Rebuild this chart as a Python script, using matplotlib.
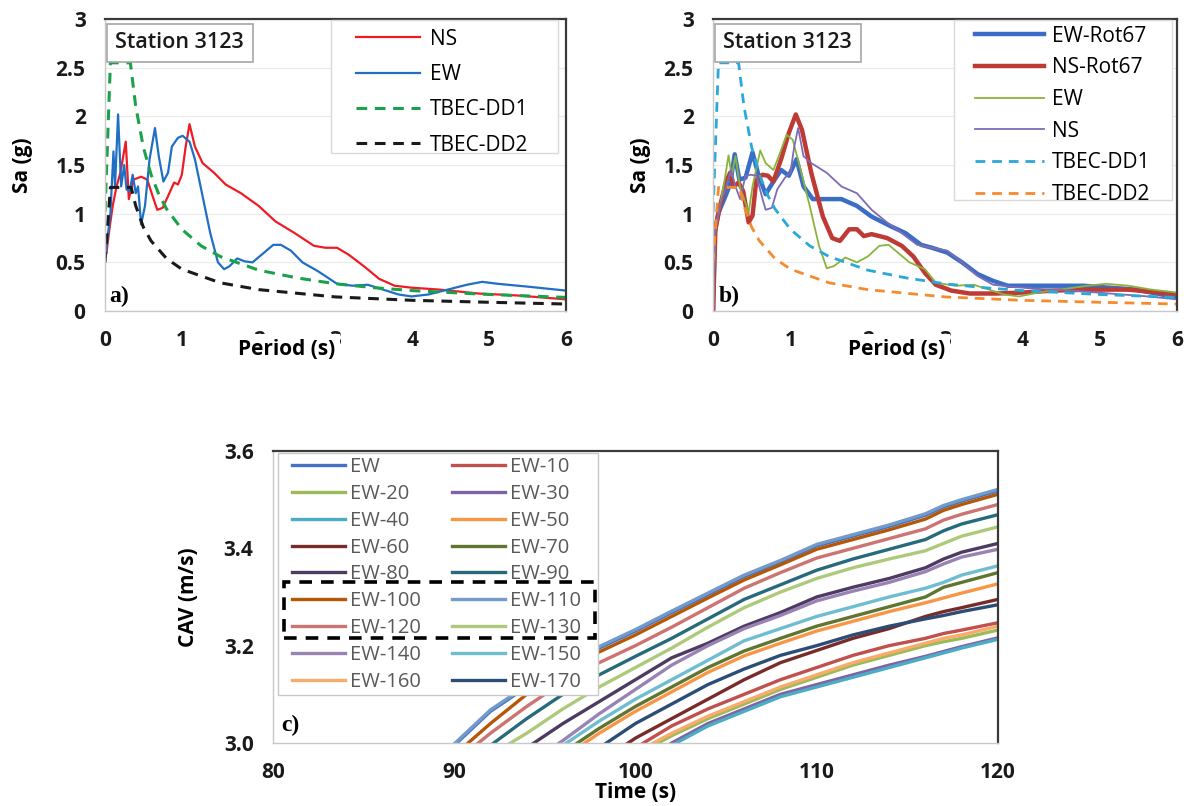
import numpy as np
import matplotlib
matplotlib.use('Agg')
import matplotlib.pyplot as plt
from matplotlib.patches import Rectangle

plt.rcParams['font.family'] = ['Open Sans', 'DejaVu Sans']

# ---------------- panel a) data ----------------
t_ns_a = [0.02, 0.05, 0.1, 0.15, 0.2, 0.27, 0.31, 0.37, 0.47, 0.55, 0.62, 0.68, 0.75, 0.82,
          0.9, 0.95, 1.0, 1.05, 1.1, 1.17, 1.27, 1.42, 1.57, 1.77, 2.0, 2.22, 2.47, 2.72,
          2.87, 3.02, 3.17, 3.37, 3.57, 3.77, 3.99, 4.36, 4.86, 5.36, 6.0]
sa_ns_a = [0.6, 0.8, 1.08, 1.28, 1.42, 1.74, 1.15, 1.35, 1.38, 1.35, 1.18, 1.04, 1.06, 1.18,
           1.32, 1.30, 1.40, 1.69, 1.92, 1.69, 1.52, 1.42, 1.30, 1.21, 1.08, 0.92, 0.80, 0.67,
           0.65, 0.65, 0.58, 0.46, 0.33, 0.26, 0.24, 0.22, 0.18, 0.16, 0.12]

t_ew_a = [0.01, 0.04, 0.07, 0.11, 0.13, 0.17, 0.21, 0.25, 0.28, 0.32, 0.36, 0.40, 0.43, 0.47,
          0.52, 0.58, 0.65, 0.70, 0.76, 0.82, 0.87, 0.95, 1.01, 1.1, 1.17, 1.27, 1.37, 1.47,
          1.55, 1.62, 1.72, 1.82, 1.92, 2.07, 2.19, 2.29, 2.42, 2.57, 2.77, 3.02, 3.22, 3.42,
          3.62, 3.82, 3.99, 4.21, 4.46, 4.71, 4.91, 5.11, 5.51, 6.0]
sa_ew_a = [0.6, 0.8, 1.0, 1.64, 1.28, 2.02, 1.28, 1.5, 1.25, 1.23, 1.40, 1.21, 1.28, 0.89,
           1.08, 1.56, 1.88, 1.59, 1.33, 1.42, 1.69, 1.78, 1.80, 1.74, 1.56, 1.18, 0.80, 0.50,
           0.43, 0.46, 0.54, 0.51, 0.50, 0.60, 0.68, 0.68, 0.62, 0.50, 0.41, 0.28, 0.26, 0.27,
           0.22, 0.17, 0.15, 0.17, 0.22, 0.27, 0.30, 0.28, 0.25, 0.21]

t_dd1 = [0, 0.07, 0.33, 0.4, 0.5, 0.6, 0.7, 0.8, 1.0, 1.25, 1.5, 2.0, 2.5, 3.0, 3.5, 4.0, 5.0, 6.0]
sa_dd1 = [1.02, 2.55, 2.55, 2.1, 1.68, 1.4, 1.2, 1.05, 0.84, 0.67, 0.56, 0.42, 0.34, 0.28, 0.24,
          0.21, 0.17, 0.14]
t_dd2 = [0, 0.07, 0.34, 0.4, 0.5, 0.6, 0.8, 1.0, 1.5, 2.0, 3.0, 4.0, 5.0, 6.0]
sa_dd2 = [0.5, 1.27, 1.27, 1.08, 0.86, 0.72, 0.54, 0.43, 0.29, 0.22, 0.145, 0.11, 0.09, 0.072]

# ---------------- panel b) data ----------------
t_ewrot = [0, 0.02, 0.07, 0.15, 0.22, 0.28, 0.34, 0.42, 0.51, 0.59, 0.68, 0.78, 0.88, 0.98,
           1.08, 1.17, 1.29, 1.47, 1.66, 1.86, 2.05, 2.30, 2.49, 2.69, 2.83, 3.03, 3.22, 3.42,
           3.62, 3.81, 4.05, 4.40, 4.79, 5.13, 5.47, 6.0]
sa_ewrot = [0, 0.8, 1.01, 1.16, 1.30, 1.61, 1.35, 1.37, 1.63, 1.39, 1.20, 1.33, 1.45, 1.39,
            1.56, 1.28, 1.15, 1.15, 1.15, 1.08, 0.97, 0.87, 0.80, 0.68, 0.65, 0.60, 0.50, 0.38,
            0.31, 0.26, 0.26, 0.26, 0.26, 0.24, 0.22, 0.14]

t_nsrot = [0, 0.03, 0.09, 0.17, 0.22, 0.27, 0.33, 0.39, 0.46, 0.51, 0.56, 0.64, 0.71, 0.78,
           0.88, 0.98, 1.07, 1.15, 1.27, 1.42, 1.54, 1.64, 1.76, 1.86, 1.95, 2.05, 2.25, 2.44,
           2.59, 2.74, 2.88, 3.08, 3.32, 3.66, 4.01, 4.40, 4.89, 5.37, 6.0]
sa_nsrot = [0, 0.84, 1.08, 1.33, 1.42, 1.28, 1.32, 1.23, 0.91, 0.98, 1.35, 1.40, 1.39, 1.33,
            1.56, 1.83, 2.02, 1.86, 1.42, 0.97, 0.75, 0.72, 0.84, 0.84, 0.77, 0.79, 0.75, 0.67,
            0.56, 0.39, 0.27, 0.21, 0.18, 0.18, 0.19, 0.21, 0.22, 0.22, 0.17]

t_ew_b = [0, 0.03, 0.09, 0.15, 0.20, 0.24, 0.29, 0.35, 0.42, 0.46, 0.51, 0.61, 0.68, 0.78,
          0.85, 0.95, 1.03, 1.12, 1.25, 1.37, 1.47, 1.56, 1.71, 1.86, 2.00, 2.15, 2.27, 2.39,
          2.54, 2.74, 2.88, 3.13, 3.37, 3.57, 3.76, 3.96, 4.20, 4.49, 4.84, 5.08, 5.37, 5.67, 6.0]
sa_ew_b = [0, 0.84, 1.08, 1.35, 1.60, 1.39, 1.59, 1.27, 1.11, 1.01, 1.28, 1.65, 1.52, 1.45,
           1.59, 1.81, 1.76, 1.49, 1.08, 0.67, 0.44, 0.46, 0.55, 0.50, 0.56, 0.67, 0.68, 0.60,
           0.50, 0.43, 0.29, 0.26, 0.27, 0.22, 0.17, 0.15, 0.19, 0.22, 0.26, 0.28, 0.26, 0.22, 0.19]

t_ns_b = [0, 0.03, 0.1, 0.17, 0.23, 0.29, 0.35, 0.42, 0.49, 0.56, 0.64, 0.68, 0.76, 0.83,
          0.93, 1.0, 1.05, 1.10, 1.17, 1.27, 1.47, 1.66, 1.86, 2.05, 2.25, 2.44, 2.64, 2.83,
          3.03, 3.22, 3.42, 3.62, 3.86, 4.15, 4.64, 5.13, 5.62, 6.0]
sa_ns_b = [0, 0.84, 1.11, 1.28, 1.45, 1.28, 1.15, 1.39, 1.40, 1.39, 1.15, 1.04, 1.06, 1.25,
           1.37, 1.42, 1.69, 1.88, 1.59, 1.52, 1.42, 1.28, 1.21, 1.04, 0.91, 0.80, 0.68, 0.65,
           0.62, 0.50, 0.36, 0.27, 0.25, 0.23, 0.21, 0.18, 0.15, 0.12]

# ---------------- panel c) data ----------------
time_c = [90, 92, 94, 96, 98, 100, 102, 104, 106, 108, 110, 112, 114, 116, 117, 118, 120]
cav_labels = ['EW', 'EW-10', 'EW-20', 'EW-30', 'EW-40', 'EW-50', 'EW-60', 'EW-70', 'EW-80',
              'EW-90', 'EW-100', 'EW-110', 'EW-120', 'EW-130', 'EW-140', 'EW-150', 'EW-160',
              'EW-170']
cav_ew = [2.995, 3.065, 3.115, 3.16, 3.195, 3.23, 3.268, 3.305, 3.342, 3.372, 3.405, 3.425,
          3.445, 3.468, 3.485, 3.497, 3.518]
cav_ew10 = [2.7, 2.76, 2.82, 2.88, 2.95, 2.99, 3.035, 3.07, 3.1, 3.13, 3.155, 3.18, 3.2, 3.215,
            3.225, 3.232, 3.247]
cav_ew20 = [2.68, 2.74, 2.8, 2.86, 2.92, 2.975, 3.015, 3.05, 3.08, 3.11, 3.135, 3.16, 3.18, 3.2,
            3.208, 3.215, 3.232]
cav_ew30 = [2.65, 2.71, 2.77, 2.83, 2.89, 2.95, 3.0, 3.04, 3.07, 3.1, 3.12, 3.14, 3.16, 3.178,
            3.188, 3.198, 3.216]
cav_ew40 = [2.65, 2.71, 2.77, 2.83, 2.89, 2.945, 2.995, 3.035, 3.065, 3.095, 3.115, 3.135,
            3.155, 3.175, 3.185, 3.195, 3.213]
cav_ew50 = [2.8, 2.85, 2.91, 2.97, 3.02, 3.065, 3.105, 3.145, 3.179, 3.205, 3.23, 3.25, 3.27,
            3.288, 3.298, 3.308, 3.327]
cav_ew60 = [2.75, 2.8, 2.86, 2.91, 2.96, 3.01, 3.05, 3.09, 3.13, 3.165, 3.19, 3.215, 3.235,
            3.26, 3.27, 3.278, 3.295]
cav_ew70 = [2.8, 2.86, 2.92, 2.98, 3.03, 3.075, 3.115, 3.155, 3.189, 3.215, 3.24, 3.26, 3.28,
            3.3, 3.32, 3.33, 3.35]
cav_ew80 = [2.88, 2.94, 2.99, 3.04, 3.085, 3.13, 3.175, 3.205, 3.24, 3.268, 3.3, 3.32, 3.338,
            3.36, 3.378, 3.392, 3.41]
cav_ew90 = [2.95, 2.995, 3.05, 3.1, 3.14, 3.178, 3.215, 3.255, 3.295, 3.325, 3.355, 3.378,
            3.398, 3.418, 3.436, 3.45, 3.469]
cav_ew100 = [2.975, 3.04, 3.1, 3.15, 3.187, 3.222, 3.26, 3.298, 3.335, 3.366, 3.398, 3.418,
             3.438, 3.46, 3.478, 3.49, 3.511]
cav_ew110 = [2.998, 3.068, 3.118, 3.163, 3.198, 3.233, 3.271, 3.308, 3.345, 3.375, 3.408,
             3.428, 3.448, 3.471, 3.488, 3.5, 3.521]
cav_ew120 = [2.96, 3.02, 3.075, 3.125, 3.165, 3.2, 3.238, 3.278, 3.318, 3.35, 3.38, 3.4, 3.42,
             3.44, 3.458, 3.47, 3.49]
cav_ew130 = [2.92, 2.975, 3.02, 3.07, 3.115, 3.155, 3.195, 3.238, 3.278, 3.31, 3.338, 3.36,
             3.378, 3.395, 3.41, 3.425, 3.444]
cav_ew140 = [2.85, 2.9, 2.955, 3.005, 3.06, 3.11, 3.16, 3.2, 3.235, 3.262, 3.292, 3.312, 3.33,
             3.352, 3.368, 3.382, 3.398]
cav_ew150 = [2.82, 2.88, 2.94, 2.995, 3.045, 3.09, 3.13, 3.17, 3.21, 3.235, 3.26, 3.28, 3.3,
             3.318, 3.33, 3.345, 3.364]
cav_ew160 = [2.7, 2.76, 2.82, 2.88, 2.94, 2.98, 3.02, 3.055, 3.085, 3.115, 3.14, 3.165, 3.185,
             3.205, 3.215, 3.222, 3.24]
cav_ew170 = [2.75, 2.82, 2.89, 2.95, 2.99, 3.04, 3.08, 3.12, 3.152, 3.18, 3.2, 3.222, 3.24,
             3.255, 3.262, 3.27, 3.284]
cav_series = [cav_ew, cav_ew10, cav_ew20, cav_ew30, cav_ew40, cav_ew50, cav_ew60, cav_ew70,
              cav_ew80, cav_ew90, cav_ew100, cav_ew110, cav_ew120, cav_ew130, cav_ew140,
              cav_ew150, cav_ew160, cav_ew170]
cav_colors = ['#4472C4', '#C0504D', '#9BBB59', '#8064A2', '#4BACC6', '#F79646', '#772C2A',
              '#5F7530', '#4D3B62', '#276A7C', '#B65708', '#729ACA', '#CD7371', '#AFC97A',
              '#9983B5', '#6FBDD1', '#F9AB6B', '#2C4D75']

TICK_FS = 15
DASH = (3.5, 2.5)


def style_axes(ax):
    for s in ['top', 'right']:
        ax.spines[s].set_color('#3a3a3a')
        ax.spines[s].set_linewidth(1.6)
    for s in ['left', 'bottom']:
        ax.spines[s].set_color('#C8C8C8')
        ax.spines[s].set_linewidth(1.0)
    ax.tick_params(length=0, pad=14, labelsize=TICK_FS, colors='#1a1a1a')
    for lab in ax.get_xticklabels() + ax.get_yticklabels():
        lab.set_fontweight('bold')


def legend_box(ax, x0, y0, w, h, ec='#D9D9D9'):
    # white frame behind the legend entries
    ax.add_patch(Rectangle((x0, y0), w, h, transform=ax.transAxes, fc='white', ec=ec,
                           lw=1.0, zorder=4, clip_on=False))


def spectrum_axes(ax, label_x):
    ax.set_xlim(0, 6)
    ax.set_ylim(0, 3)
    ax.set_xticks(range(7))
    ax.set_yticks([0, 0.5, 1, 1.5, 2, 2.5, 3])
    ax.set_yticklabels(['0', '0.5', '1', '1.5', '2', '2.5', '3'])
    ax.yaxis.grid(True, color='#EBEBEB', lw=0.8)
    ax.set_axisbelow(True)
    style_axes(ax)
    ax.set_xlabel('Period (s)', fontsize=15, fontweight='bold',
                  bbox=dict(boxstyle='square,pad=0.22', fc='white', ec='none'))
    ax.xaxis.set_label_coords(0.395, -0.095)
    ax.xaxis.label.set_va('top')
    ax.set_ylabel('Sa (g)', fontsize=15, fontweight='bold')
    ax.yaxis.set_label_coords(label_x, 0.5)
    ax.text(0.022, 0.955, 'Station 3123', transform=ax.transAxes, fontsize=15.5,
            fontweight='semibold', va='top', ha='left', color='#1a1a1a', zorder=6,
            bbox=dict(boxstyle='square,pad=0.4', fc='white', ec='#A6A6A6', lw=1.2))


fig = plt.figure(figsize=(11.92, 8.06), dpi=100)

# a)
ax1 = fig.add_axes([0.0881, 0.6141, 0.3867, 0.3623])
ax1.plot(t_ns_a, sa_ns_a, color='#EE1C25', lw=1.6, label='NS')
ax1.plot(t_ew_a, sa_ew_a, color='#1F6FC5', lw=1.6, label='EW')
ax1.plot(t_dd1, sa_dd1, color='#1AA14A', lw=2.2, ls=(0, DASH), label='TBEC-DD1')
ax1.plot(t_dd2, sa_dd2, color='#1a1a1a', lw=2.2, ls=(0, DASH), label='TBEC-DD2')
spectrum_axes(ax1, -0.156)
legend_box(ax1, 0.490, 0.541, 0.493, 0.456)
ax1.legend(loc='upper left', bbox_to_anchor=(0.544, 0.967), borderaxespad=0, borderpad=0,
           fontsize=15, handlelength=3.1, handletextpad=0.48, labelspacing=0.69,
           frameon=False)
ax1.text(0.01, 0.05, 'a)', transform=ax1.transAxes, fontsize=17, fontweight='bold',
         family='Liberation Serif', va='center', ha='left')

# b)
ax2 = fig.add_axes([0.5982, 0.6141, 0.3893, 0.3623])
ax2.plot(t_ewrot, sa_ewrot, color='#3A6EC6', lw=3.2, label='EW-Rot67')
ax2.plot(t_nsrot, sa_nsrot, color='#BE3A34', lw=3.2, label='NS-Rot67')
ax2.plot(t_ew_b, sa_ew_b, color='#8AB33E', lw=1.3, label='EW')
ax2.plot(t_ns_b, sa_ns_b, color='#7F6BB5', lw=1.3, label='NS')
ax2.plot(t_dd1, sa_dd1, color='#2AA8D8', lw=2.0, ls=(0, DASH), label='TBEC-DD1')
ax2.plot(t_dd2, sa_dd2, color='#F58A2E', lw=2.0, ls=(0, DASH), label='TBEC-DD2')
spectrum_axes(ax2, -0.134)
legend_box(ax2, 0.519, 0.380, 0.471, 0.617)
ax2.legend(loc='upper left', bbox_to_anchor=(0.565, 0.977), borderaxespad=0, borderpad=0,
           fontsize=15, handlelength=3.3, handletextpad=0.4, labelspacing=0.51,
           frameon=False)
ax2.text(0.012, 0.05, 'b)', transform=ax2.transAxes, fontsize=17, fontweight='bold',
         family='Liberation Serif', va='center', ha='left')

# c)
ax3 = fig.add_axes([0.2290, 0.0782, 0.6082, 0.3623])
handles = []
for lab, vals, col in zip(cav_labels, cav_series, cav_colors):
    h, = ax3.plot(time_c, vals, color=col, lw=2.4, label=lab)
    handles.append(h)
ax3.set_xlim(80, 120)
ax3.set_ylim(3.0, 3.6)
ax3.set_xticks([80, 90, 100, 110, 120])
ax3.set_yticks([3.0, 3.2, 3.4, 3.6])
ax3.set_yticklabels(['3.0', '3.2', '3.4', '3.6'])
style_axes(ax3)
ax3.set_xlabel('Time (s)', fontsize=15, fontweight='bold')
ax3.xaxis.set_label_coords(0.5, -0.135)
ax3.xaxis.label.set_va('top')
ax3.set_ylabel('CAV (m/s)', fontsize=15, fontweight='bold')
ax3.yaxis.set_label_coords(-0.102, 0.5)
legend_box(ax3, 0.007, 0.164, 0.441, 0.829, ec='#C8C8C8')
order = handles[0::2] + handles[1::2]
ax3.legend(order, [h.get_label() for h in order], ncol=2, loc='upper left',
           bbox_to_anchor=(0.026, 0.979), borderaxespad=0, borderpad=0, fontsize=14.5,
           handlelength=2.64, handletextpad=0.25, labelspacing=0.34, columnspacing=1.54,
           frameon=False, labelcolor='#595959')
rect = Rectangle((0.015, 0.36), 0.429, 0.191, transform=ax3.transAxes, fill=False,
                 ec='black', lw=2.6, ls=(0, (3.5, 2.5)), zorder=7, clip_on=False)
ax3.add_artist(rect)
ax3.text(0.012, 0.06, 'c)', transform=ax3.transAxes, fontsize=17, fontweight='bold',
         family='Liberation Serif', va='center', ha='left')

fig.savefig('out.png', dpi=100, facecolor='white')
